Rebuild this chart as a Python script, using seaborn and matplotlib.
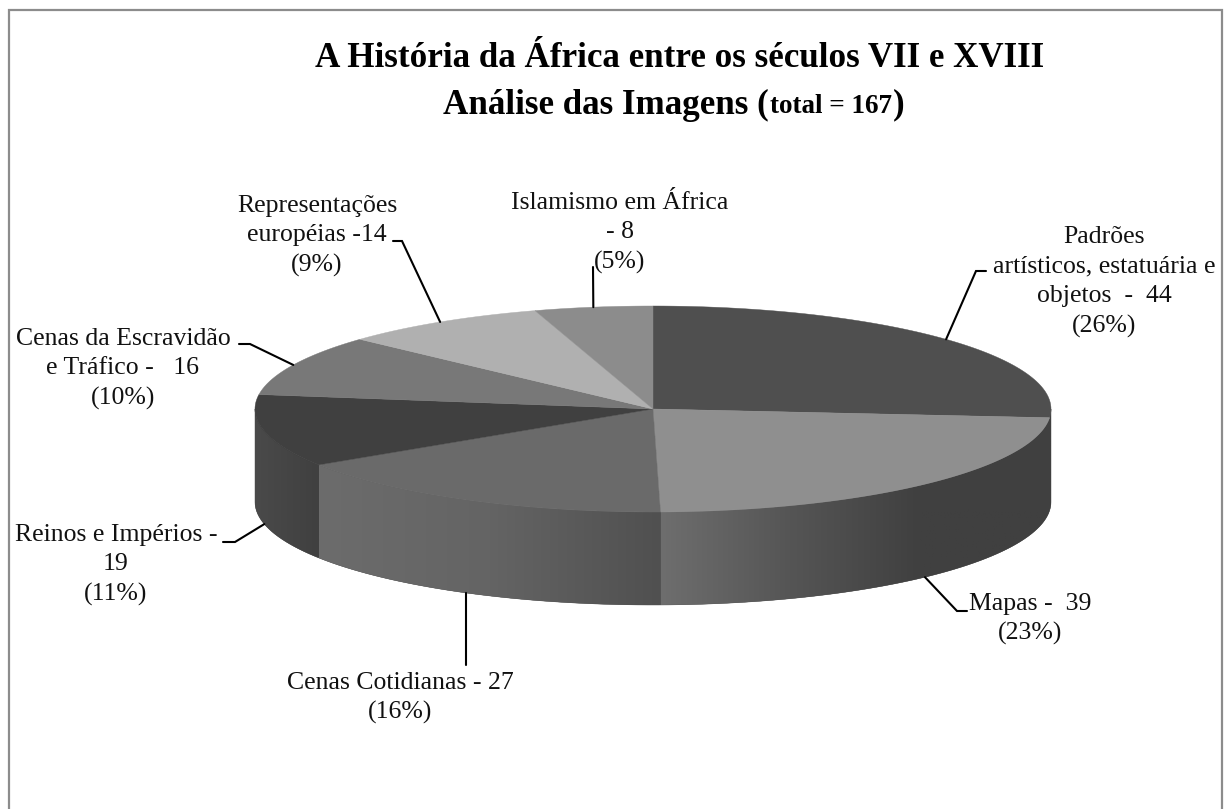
import numpy as np
import matplotlib
matplotlib.use("Agg")
import matplotlib.pyplot as plt
from matplotlib.patches import Polygon
import seaborn as sns

# Dados
categorias = ["Padrões\nartísticos, estatuária e\nobjetos  -  44\n(26%)",
              "Mapas -  39\n(23%)",
              "Cenas Cotidianas - 27\n(16%)",
              "Reinos e Impérios -\n19\n(11%)",
              "Cenas da Escravidão\ne Tráfico -   16\n(10%)",
              "Representações\neuropéias -14\n(9%)",
              "Islamismo em África\n- 8\n(5%)"]
valores = [44, 39, 27, 19, 16, 14, 8]
cores_topo = ["#4f4f4f", "#8f8f8f", "#6a6a6a", "#404040", "#787878", "#b0b0b0", "#8c8c8c"]
# degradê da parede lateral (esquerda -> direita)
cores_parede = [["#404040", "#404040"],
                ["#6e6e6e", "#555555", "#404040", "#404040"],
                ["#6c6c6c", "#646464", "#505050"],
                ["#4a4a4a", "#404040"],
                None, None, None]

# Geometria da pizza em pixels
CX, CY, RX, RY, ALTURA = 653, 409, 398, 103, 93

# Posicao dos rotulos e cotovelos das linhas de chamada
pos_rotulos = [(1104, 282), (1030, 619), (400, 698), (116, 565), (123, 369), (317, 236), (620, 233)]
cotovelos = [[(976, 271), (986, 271)],
             [(957, 611), (967, 611)],
             [(466, 665)],
             [(235, 542), (223, 542)],
             [(250, 344), (239, 344)],
             [(402, 241), (393, 241)],
             [(593, 267)]]

sns.set_theme(style="white")
plt.rcParams["font.family"] = ["Liberation Serif", "DejaVu Serif"]

fig = plt.figure(figsize=(12.24, 8.09), dpi=100)
ax = fig.add_axes([0, 0, 1, 1])


def borda(ang):
    t = np.radians(ang)
    return CX + RX * np.sin(t), CY - RY * np.cos(t)


def parede(ini, fim):
    x, y = borda(np.linspace(ini, fim, 120))
    pts = np.column_stack([np.r_[x, x[::-1]], np.r_[y, y[::-1] + ALTURA]])
    return x, y, pts


angulos = np.concatenate([[0], np.cumsum(valores) / sum(valores) * 360])

# Fundo escuro da parede, esconde as emendas
ax.add_patch(Polygon(parede(90, 270)[2], closed=True, fc="#404040", ec="#404040", lw=0.3, zorder=0))

# Paredes laterais
for i in range(len(valores)):
    ini, fim = max(angulos[i], 90), min(angulos[i + 1], 270)
    if ini >= fim or cores_parede[i] is None:
        continue
    x, y, pts = parede(ini, fim)
    poly = Polygon(pts, closed=True, fc="none", ec="none", zorder=1)
    ax.add_patch(poly)
    cmap = sns.blend_palette(cores_parede[i], as_cmap=True)
    img = ax.imshow(np.linspace(0, 1, 256).reshape(1, -1), cmap=cmap, aspect="auto",
                    extent=(x.min(), x.max(), y.max() + ALTURA, y.min()), zorder=2)
    img.set_clip_path(poly)

# Topo
for i in range(len(valores)):
    t = np.linspace(angulos[i], angulos[i + 1], 120)
    x, y = borda(t)
    pts = np.column_stack([np.r_[CX, x], np.r_[CY, y]])
    ax.add_patch(Polygon(pts, closed=True, fc=cores_topo[i], ec=cores_topo[i], lw=0.3, zorder=3))

# Rotulos e linhas de chamada
for i, rotulo in enumerate(categorias):
    meio = (angulos[i] + angulos[i + 1]) / 2
    x0, y0 = borda(meio)
    if 90 < meio < 270:
        y0 += ALTURA
    xs = [x0] + [p[0] for p in cotovelos[i]]
    ys = [y0] + [p[1] for p in cotovelos[i]]
    ax.plot(xs, ys, color="black", lw=1.5, solid_joinstyle="miter", zorder=4)
    ax.text(pos_rotulos[i][0], pos_rotulos[i][1], rotulo, ha="center", va="center",
            fontsize=18.5, color="#111111", linespacing=1.44, zorder=5)

# Moldura (sem a linha de baixo, cortada na imagem)
ax.plot([9, 9, 1222, 1222], [809, 10, 10, 809], color="#8c8c8c", lw=1.6, zorder=6,
        solid_joinstyle="miter")

# Titulo
ax.text(680, 58, "A História da África entre os séculos VII e XVIII", ha="center", va="center",
        fontsize=25.2, fontweight="bold", color="black")
t1 = ax.text(443, 105, "Análise das Imagens (", ha="left", va="center",
             fontsize=25.2, fontweight="bold", color="black")
ax.set_xlim(0, 1224)
ax.set_ylim(809, 0)
rend = fig.canvas.get_renderer()
x1 = t1.get_window_extent(rend).x1
t2 = ax.text(x1 + 1, 106, "total = 167", ha="left", va="center",
             fontsize=19.5, fontweight="bold", color="black")
x2 = t2.get_window_extent(rend).x1
ax.text(x2 + 1, 105, ")", ha="left", va="center", fontsize=25.2, fontweight="bold", color="black")

ax.axis("off")
fig.savefig("out.png", dpi=100, facecolor="white")
